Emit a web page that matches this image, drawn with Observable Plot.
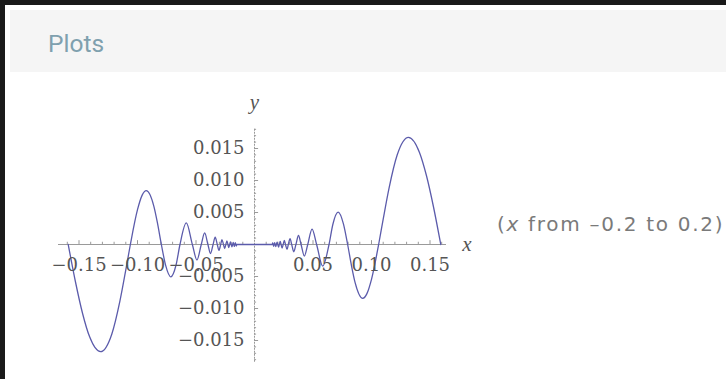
<!DOCTYPE html>
<html>
<head>
<meta charset="utf-8">
<script src="https://cdn.jsdelivr.net/npm/d3@7"></script>
<script src="https://cdn.jsdelivr.net/npm/@observablehq/plot@0.6"></script>
<style>
  html, body { margin: 0; padding: 0; }
  body { width: 726px; height: 379px; background: #1a1a1a; position: relative; overflow: hidden; }
  #page { position: absolute; left: 5px; top: 5px; width: 721px; height: 374px; background: #ffffff; }
  #band { position: absolute; left: 5px; top: 5px; width: 716px; height: 62px; background: #f5f5f5; }
  #title { position: absolute; left: 48px; top: 32px; font-family: Roboto, sans-serif; font-size: 24.5px; color: #7fa0ae; line-height: 1; }
  #chart { position: absolute; left: 0; top: 0; }
  #note { position: absolute; left: 497px; top: 214px; font-family: "DejaVu Sans", sans-serif; font-size: 20px; letter-spacing: 1.7px; color: #7a7a7a; white-space: nowrap; line-height: 1; }
</style>
</head>
<body>
<div id="page"><div id="band"></div></div>
<div id="title">Plots</div>
<div id="chart"></div>
<div id="note">(<i>x</i> from –0.2 to 0.2)</div>
<script>
// curve samples (x, y)
const curveX = [
  -0.1592, -0.1530, -0.1470, -0.1410, -0.1316, -0.1220, -0.1150, -0.1100, -0.1061,
  -0.1000, -0.0960, -0.0925, -0.0860, -0.0830, -0.0796, -0.0760, -0.0715, -0.0670,
  -0.0637, -0.0583, -0.0531, -0.0492, -0.0455, -0.0426, -0.0398, -0.0376, -0.0354,
  -0.0336, -0.0318, -0.0304, -0.0289, -0.0278, -0.0265, -0.0255, -0.0245, -0.0236,
  -0.0227, -0.0220, -0.0212, -0.0206, -0.0199, -0.0193, -0.0187, -0.0182, -0.0177,
  -0.0172, -0.0168, -0.0164, -0.0159, -0.0155, -0.0152,
  0,
  0.0152, 0.0155, 0.0159, 0.0164, 0.0168, 0.0172, 0.0177, 0.0182,
  0.0187, 0.0193, 0.0199, 0.0206, 0.0212, 0.0220, 0.0227, 0.0236, 0.0245, 0.0255,
  0.0265, 0.0278, 0.0289, 0.0304, 0.0318, 0.0336, 0.0354, 0.0376, 0.0398, 0.0426,
  0.0455, 0.0492, 0.0531, 0.0583, 0.0637, 0.0670, 0.0715, 0.0760, 0.0796, 0.0830,
  0.0860, 0.0925, 0.0960, 0.1000, 0.1061, 0.1100, 0.1150, 0.1220, 0.1316, 0.1410,
  0.1470, 0.1530, 0.1592
];
const curveY = [
  0, -0.00586, -0.01074, -0.01439, -0.01675, -0.01402, -0.00881, -0.00397, 0,
  0.00544, 0.00771, 0.00841, 0.00596, 0.00341, 0, -0.00322, -0.00505, -0.00316,
  0, 0.00337, 0, -0.00241, 0, 0.00181, 0, -0.00141, 0,
  0.00113, 0, -0.00092, 0, 0.00077, 0, -0.00065, 0, 0.00056,
  0, -0.00048, 0, 0.00042, 0, -0.00037, 0, 0.00033, 0,
  -0.00030, 0, 0.00027, 0, -0.00024, 0,
  0,
  0, 0.00024, 0, -0.00027, 0, 0.00030, 0, -0.00033,
  0, 0.00037, 0, -0.00042, 0, 0.00048, 0, -0.00056, 0, 0.00065,
  0, -0.00077, 0, 0.00092, 0, -0.00113, 0, 0.00141, 0, -0.00181,
  0, 0.00241, 0, -0.00337, 0, 0.00316, 0.00505, 0.00322, 0, -0.00341,
  -0.00596, -0.00841, -0.00771, -0.00544, 0, 0.00397, 0.00881, 0.01402, 0.01675, 0.01439,
  0.01074, 0.00586, 0
];
const xTicks = [-0.15, -0.10, -0.05, 0.05, 0.10, 0.15];
const xTickLabels = ["−0.15", "−0.10", "−0.05", "0.05", "0.10", "0.15"];
const yTicks = [0.015, 0.010, 0.005, -0.005, -0.010, -0.015];
const yTickLabels = ["0.015", "0.010", "0.005", "−0.005", "−0.010", "−0.015"];
const xMinor = [-0.16, -0.14, -0.13, -0.12, -0.11, -0.09, -0.08, -0.07, -0.06, -0.04, -0.03, -0.02, -0.01,
                0.01, 0.02, 0.03, 0.04, 0.06, 0.07, 0.08, 0.09, 0.11, 0.12, 0.13, 0.14, 0.16];
const yMinor = [0.018, 0.017, 0.016, 0.014, 0.013, 0.012, 0.011, 0.009, 0.008, 0.007, 0.006, 0.004, 0.003, 0.002, 0.001,
                -0.001, -0.002, -0.003, -0.004, -0.006, -0.007, -0.008, -0.009, -0.011, -0.012, -0.013, -0.014, -0.016, -0.017, -0.018];
const xAxisExtent = [-0.1675, 0.1641];
const yAxisExtent = [-0.0184, 0.0181];
const axisNames = [{name: "x", x: 0.1815, y: 0}, {name: "y", x: 0, y: 0.0223}];

const curve = curveX.map((x, i) => ({x, y: curveY[i]}));
const xt = xTicks.map((x, i) => ({x, label: xTickLabels[i]}));
const yt = yTicks.map((y, i) => ({y, label: yTickLabels[i]}));

const axisColor = "#9a9a9a";
const labelColor = "#555";
const serif = "'DejaVu Serif', 'Liberation Serif', serif";

const chart = Plot.plot({
  width: 726,
  height: 379,
  marginLeft: 20,
  marginRight: 238,
  marginTop: 116,
  marginBottom: 7,
  x: {domain: [-0.2, 0.2], axis: null},
  y: {domain: [-0.02, 0.02], axis: null},
  style: {background: "transparent", overflow: "visible"},
  marks: [
    Plot.ruleY([0], {x1: xAxisExtent[0], x2: xAxisExtent[1], stroke: axisColor, strokeWidth: 1}),
    Plot.ruleX([0], {y1: yAxisExtent[0], y2: yAxisExtent[1], stroke: axisColor, strokeWidth: 1, strokeDasharray: "2,1"}),
    Plot.ruleX(xMinor, {y1: 0, y2: 0.00035, stroke: axisColor}),
    Plot.ruleX(xTicks, {y1: 0, y2: 0.0006, stroke: axisColor}),
    Plot.ruleY(yMinor, {x1: 0, x2: 0.0018, stroke: axisColor}),
    Plot.ruleY(yTicks, {x1: 0, x2: 0.0035, stroke: axisColor}),
    Plot.line(curve, {x: "x", y: "y", curve: "monotone-x", stroke: "#5b5bab", strokeWidth: 1.3}),
    Plot.text(xt, {x: "x", y: 0, text: "label", dy: 21, fontFamily: serif, fontSize: 18, fill: labelColor, textAnchor: "middle"}),
    Plot.text(yt, {x: 0, y: "y", text: "label", dx: -10, fontFamily: serif, fontSize: 18, fill: labelColor, textAnchor: "end"}),
    Plot.text(axisNames, {x: "x", y: "y", text: "name", fontFamily: "'Liberation Serif', serif", fontStyle: "italic", fontSize: 21, fill: "#555"})
  ]
});
document.getElementById("chart").append(chart);
</script>
</body>
</html>
